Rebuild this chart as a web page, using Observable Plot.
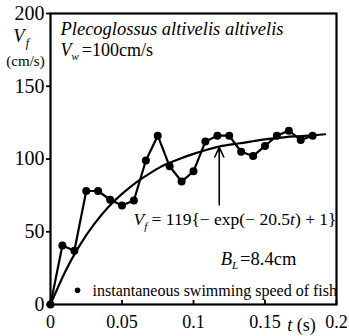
<!DOCTYPE html>
<html>
<head>
<meta charset="utf-8">
<script src="https://cdn.jsdelivr.net/npm/d3@7"></script>
<script src="https://cdn.jsdelivr.net/npm/@observablehq/plot@0.6"></script>
<style>
  body { margin: 0; background: #fff; }
  #chart svg { display: block; }
  #chart svg, #chart svg text, #chart svg tspan { font-family: "Liberation Serif", "Times New Roman", serif !important; }
</style>
</head>
<body>
<div id="chart"></div>
<script>
// Measured instantaneous swimming speed (t in s, V_f in cm/s)
const sampleTimes = [0, 0.0083, 0.0167, 0.025, 0.0333, 0.0417, 0.05, 0.0583, 0.0667, 0.075, 0.0833, 0.0917, 0.1, 0.1083, 0.1167, 0.125, 0.1333, 0.1417, 0.15, 0.1583, 0.1667, 0.175, 0.1833];
const sampleSpeeds = [0, 40.5, 37, 78, 78, 72, 68, 71.5, 99, 116, 95, 84.5, 91.5, 112, 116, 116, 105, 102, 109, 116, 119.5, 113, 116];

// Fitted curve
const curveTimes = [0, 0.01, 0.02, 0.03, 0.04, 0.05, 0.06, 0.07, 0.08, 0.09, 0.1, 0.11, 0.12, 0.13, 0.14, 0.15, 0.16, 0.17, 0.18, 0.192];
const curveSpeeds = [0, 22, 40, 54.5, 66.5, 76, 84, 90.5, 96, 100, 103.5, 106.5, 109, 110.5, 112, 113.5, 114.5, 115.5, 116, 117];

const xTicks = [0, 0.05, 0.1, 0.15, 0.2];
const yTicks = [0, 50, 100, 150, 200];

// Annotation anchors (data coordinates)
const arrowX = [0.118];
const arrowFrom = [68.5];
const arrowTo = [108];

const FONT = "Liberation Serif";

const points = sampleTimes.map((t, i) => ({t, v: sampleSpeeds[i]}));
const curve = curveTimes.map((t, i) => ({t, v: curveSpeeds[i]}));
const arrow = arrowX.map((x, i) => ({x, y1: arrowFrom[i], y2: arrowTo[i]}));

const labels = [
  {key: "title", t: 0.007, v: 189, size: 18.5, anchor: "start"},
  {key: "vw", t: 0.007, v: 175, size: 18, anchor: "start"},
  {key: "vf", t: -0.026, v: 184.5, size: 18.5, anchor: "start"},
  {key: "unit", t: -0.0175, v: 167.5, size: 15, anchor: "middle"},
  {key: "eq", t: 0.058, v: 58.5, size: 17.5, anchor: "start"},
  {key: "bl", t: 0.119, v: 31.5, size: 18.5, anchor: "start"},
  {key: "legend", t: 0.0294, v: 9.6, size: 16, anchor: "start"},
  {key: "taxis", t: 0.1755, v: -14.5, size: 18, anchor: "middle"}
];
const legendDot = [{t: 0.0189, v: 9.8}];

const textMarks = labels.map(d => Plot.text([d], {
  x: "t", y: "v", text: () => "@" + d.key, textAnchor: d.anchor, lineAnchor: "middle",
  fontSize: d.size, fontFamily: FONT, fill: "black"
}));

const chart = Plot.plot({
  width: 349,
  height: 336,
  marginLeft: 50,
  marginRight: 13,
  marginTop: 13,
  marginBottom: 32,
  style: {background: "white", overflow: "visible", fontFamily: FONT},
  x: {domain: [0, 0.2]},
  y: {domain: [0, 200]},
  marks: [
    Plot.axisY({ticks: yTicks, tickSize: 4, tickPadding: 2, fontSize: 20, tickFormat: d => String(d), strokeWidth: 1.8, label: null}),
    Plot.axisX({ticks: xTicks, tickSize: 0, tickPadding: 11, fontSize: 18, tickFormat: d => String(d), label: null}),
    Plot.axisX({ticks: xTicks, tickSize: -4, text: null, strokeWidth: 1.8, label: null}),
    Plot.line(curve, {x: "t", y: "v", curve: "natural", stroke: "black", strokeWidth: 2.2}),
    Plot.line(points, {x: "t", y: "v", stroke: "black", strokeWidth: 2.2}),
    Plot.dot(points, {x: "t", y: "v", r: 4, fill: "black"}),
    Plot.arrow(arrow, {x: "x", y1: "y1", y2: "y2", stroke: "black", strokeWidth: 1.6, headLength: 10, headAngle: 50}),
    Plot.dot(legendDot, {x: "t", y: "v", r: 2.8, fill: "black"}),
    Plot.frame({stroke: "black", strokeWidth: 2.2}),
    ...textMarks
  ]
});

const svg = d3.select(chart);
svg.selectAll("text").attr("font-family", FONT);
const rich = {
  title: `<tspan font-style="italic">Plecoglossus altivelis altivelis</tspan>`,
  vw: `<tspan font-style="italic">V</tspan><tspan font-style="italic" font-size="11" dy="4">w</tspan><tspan dy="-4" dx="3">=100cm/s</tspan>`,
  vf: `<tspan font-style="italic">V</tspan><tspan font-style="italic" font-size="12" dy="5" dx="1">f</tspan>`,
  unit: `(cm/s)`,
  eq: `<tspan font-style="italic">V</tspan><tspan font-style="italic" font-size="11" dy="5">f</tspan><tspan dy="-5"> = 119{− exp(− 20.5</tspan><tspan font-style="italic">t</tspan><tspan>) + 1}</tspan>`,
  bl: `<tspan font-style="italic">B</tspan><tspan font-style="italic" font-size="11" dy="4">L</tspan><tspan dy="-4" dx="2">=8.4cm</tspan>`,
  legend: `instantaneous swimming speed of fish`,
  taxis: `<tspan font-style="italic">t</tspan> (s)`
};
svg.selectAll("text").each(function() {
  const txt = this.textContent;
  if (txt && txt.startsWith("@") && rich[txt.slice(1)] !== undefined) {
    d3.select(this).html(rich[txt.slice(1)]);
  }
});
document.getElementById("chart").appendChild(chart);
</script>
</body>
</html>
